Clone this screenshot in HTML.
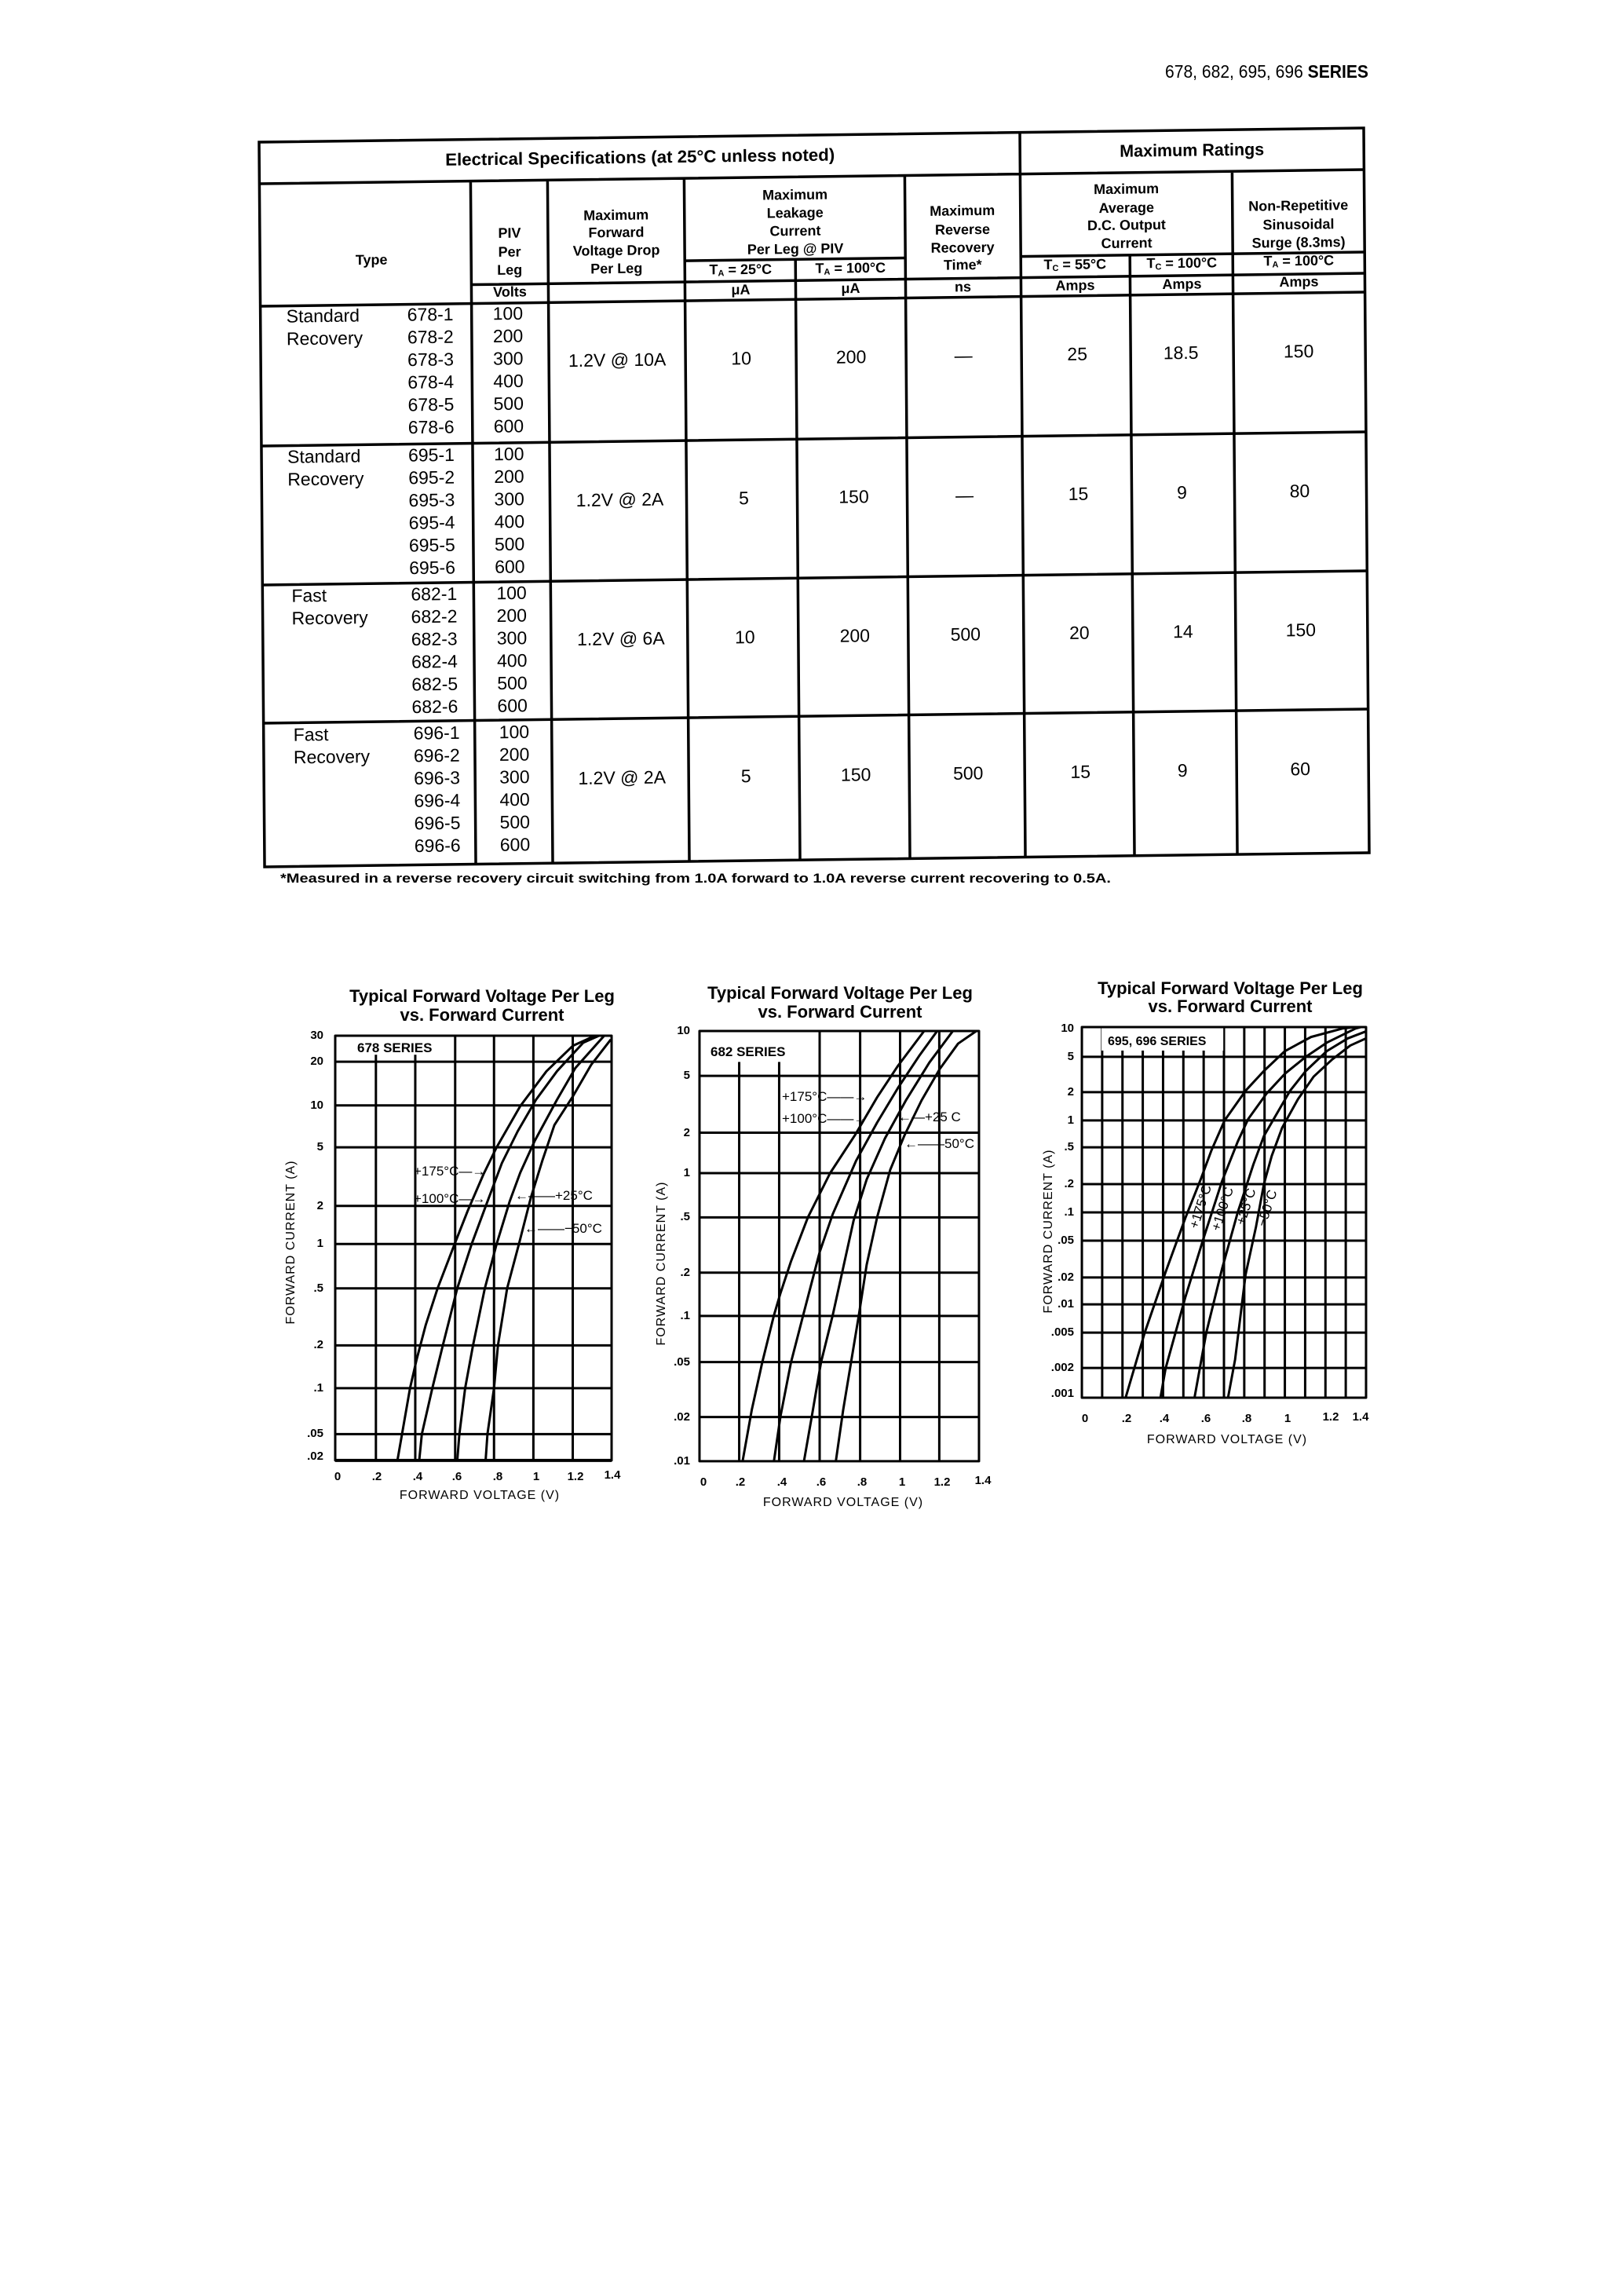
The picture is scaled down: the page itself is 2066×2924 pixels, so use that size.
<!DOCTYPE html>
<html><head><meta charset="utf-8"><style>
html,body{margin:0;padding:0;background:#fff}
svg{display:block}
text{font-family:"Liberation Sans",sans-serif;fill:#000}
.b{font-weight:bold}
</style></head><body>
<svg width="2066" height="2924" viewBox="0 0 2066 2924" xmlns="http://www.w3.org/2000/svg">
<rect width="2066" height="2924" fill="#fff"/>
<text x="1484" y="99" font-size="23" textLength="259" lengthAdjust="spacingAndGlyphs">678, 682, 695, 696 <tspan class="b">SERIES</tspan></text>

<g transform="matrix(1,-0.0128,0.0076,1,330,181)">
<g stroke="#000" fill="none" stroke-width="3.5">
<rect x="0" y="0" width="1407" height="923"/>
<path d="M0,53H1407 M969,0V923 M269,53V923 M367,53V923 M541,53V923 M682,158V923 M822,53V923 M1108,158V923 M1239,53V923"/>
<path d="M541,158H822 M969,158H1407 M269,185H1407 M0,209H1407 M0,387H1407 M0,564H1407 M0,740H1407"/>
</g>
<g font-size="20" class="b" dominant-baseline="middle">
<text x="237" y="27" font-size="22" textLength="496" lengthAdjust="spacingAndGlyphs">Electrical Specifications (at 25°C unless noted)</text>
<text x="1188" y="27" font-size="22" text-anchor="middle" textLength="184" lengthAdjust="spacingAndGlyphs">Maximum Ratings</text>
</g>
<g font-size="18" class="b" text-anchor="middle" dominant-baseline="middle">
<text x="142" y="153">Type</text>
<text x="318" y="121">PIV</text><text x="318" y="145">Per</text><text x="318" y="168">Leg</text><text x="318" y="196">Volts</text>
<text x="454" y="100">Maximum</text><text x="454" y="122">Forward</text><text x="454" y="145">Voltage Drop</text><text x="454" y="168">Per Leg</text>
<text x="682" y="77">Maximum</text><text x="682" y="100">Leakage</text><text x="682" y="123">Current</text><text x="682" y="146">Per Leg @ PIV</text>
<text x="612" y="171">T<tspan font-size="11" dy="4">A</tspan><tspan dy="-4"> = 25°C</tspan></text>
<text x="752" y="171">T<tspan font-size="11" dy="4">A</tspan><tspan dy="-4"> = 100°C</tspan></text>
<text x="612" y="197">μA</text><text x="752" y="197">μA</text>
<text x="895" y="100">Maximum</text><text x="895" y="124">Reverse</text><text x="895" y="147">Recovery</text><text x="895" y="169">Time*</text><text x="895" y="197">ns</text>
<text x="1104" y="75">Maximum</text><text x="1104" y="99">Average</text><text x="1104" y="121">D.C. Output</text><text x="1104" y="144">Current</text>
<text x="1038" y="170">T<tspan font-size="11" dy="4">C</tspan><tspan dy="-4"> = 55°C</tspan></text>
<text x="1174" y="170">T<tspan font-size="11" dy="4">C</tspan><tspan dy="-4"> = 100°C</tspan></text>
<text x="1038" y="197">Amps</text><text x="1174" y="197">Amps</text>
<text x="1323" y="99">Non-Repetitive</text><text x="1323" y="123">Sinusoidal</text><text x="1323" y="146">Surge (8.3ms)</text>
<text x="1323" y="169">T<tspan font-size="11" dy="4">A</tspan><tspan dy="-4"> = 100°C</tspan></text><text x="1323" y="196">Amps</text>
</g>
<g font-size="23" dominant-baseline="middle">
<g transform="translate(0,224)">
<text x="33" y="0">Standard</text><text x="33" y="28.7">Recovery</text>
<text x="187" y="0">678-1</text><text x="187" y="28.7">678-2</text><text x="187" y="57.4">678-3</text><text x="187" y="86.1">678-4</text><text x="187" y="114.8">678-5</text><text x="187" y="143.5">678-6</text>
<text x="296" y="0">100</text><text x="296" y="28.7">200</text><text x="296" y="57.4">300</text><text x="296" y="86.1">400</text><text x="296" y="114.8">500</text><text x="296" y="143.5">600</text>
</g>
<g transform="translate(0,403)">
<text x="33" y="0">Standard</text><text x="33" y="28.7">Recovery</text>
<text x="187" y="0">695-1</text><text x="187" y="28.7">695-2</text><text x="187" y="57.4">695-3</text><text x="187" y="86.1">695-4</text><text x="187" y="114.8">695-5</text><text x="187" y="143.5">695-6</text>
<text x="296" y="0">100</text><text x="296" y="28.7">200</text><text x="296" y="57.4">300</text><text x="296" y="86.1">400</text><text x="296" y="114.8">500</text><text x="296" y="143.5">600</text>
</g>
<g transform="translate(0,580)">
<text x="37" y="0">Fast</text><text x="37" y="28.7">Recovery</text>
<text x="189" y="0">682-1</text><text x="189" y="28.7">682-2</text><text x="189" y="57.4">682-3</text><text x="189" y="86.1">682-4</text><text x="189" y="114.8">682-5</text><text x="189" y="143.5">682-6</text>
<text x="298" y="0">100</text><text x="298" y="28.7">200</text><text x="298" y="57.4">300</text><text x="298" y="86.1">400</text><text x="298" y="114.8">500</text><text x="298" y="143.5">600</text>
</g>
<g transform="translate(0,757)">
<text x="38" y="0">Fast</text><text x="38" y="28.7">Recovery</text>
<text x="191" y="0">696-1</text><text x="191" y="28.7">696-2</text><text x="191" y="57.4">696-3</text><text x="191" y="86.1">696-4</text><text x="191" y="114.8">696-5</text><text x="191" y="143.5">696-6</text>
<text x="300" y="0">100</text><text x="300" y="28.7">200</text><text x="300" y="57.4">300</text><text x="300" y="86.1">400</text><text x="300" y="114.8">500</text><text x="300" y="143.5">600</text>
</g>
</g>
<g font-size="23" dominant-baseline="middle" text-anchor="middle">
<g transform="translate(0,285)">
<text x="454">1.2V @ 10A</text><text x="612">10</text><text x="752">200</text><text x="895">—</text><text x="1040">25</text><text x="1172">18.5</text><text x="1322">150</text>
</g>
<g transform="translate(0,463)">
<text x="456">1.2V @ 2A</text><text x="614">5</text><text x="754">150</text><text x="895">—</text><text x="1040">15</text><text x="1172">9</text><text x="1322">80</text>
</g>
<g transform="translate(0,640)">
<text x="456">1.2V @ 6A</text><text x="614">10</text><text x="754">200</text><text x="895">500</text><text x="1040">20</text><text x="1172">14</text><text x="1322">150</text>
</g>
<g transform="translate(0,817)">
<text x="456">1.2V @ 2A</text><text x="614">5</text><text x="754">150</text><text x="897">500</text><text x="1040">15</text><text x="1170">9</text><text x="1320">60</text>
</g>
</g>
</g>
<text x="357" y="1124" font-size="17" class="b" textLength="1058" lengthAdjust="spacingAndGlyphs">*Measured in a reverse recovery circuit switching from 1.0A forward to 1.0A reverse current recovering to 0.5A.</text>

<g transform="translate(361.8,1299.6) scale(0.3343,0.4037)" fill="none" stroke="#000" stroke-width="3" stroke-linejoin="round">
<path vector-effect="non-scaling-stroke" d="M350,48V1388M500,48V1388M652,48V1388M800,48V1388M950,48V1388M1100,48V1388M195,130H1248M195,268H1248M195,400H1248M195,585H1248M195,705H1248M195,845H1248M195,1025H1248M195,1160H1248M195,1305H1248"/>
<rect x="270" y="50" width="330" height="58" fill="#fff" stroke="none"/>
<rect vector-effect="non-scaling-stroke" x="195" y="48" width="1053" height="1340"/>
<path vector-effect="non-scaling-stroke" stroke-width="4" d="M195,1388H1248"/>
<polyline vector-effect="non-scaling-stroke" points="432,1388 480,1160 505,1070 540,960 585,845 650,705 700,600 760,485 810,400 900,270 1000,160 1100,80 1185,48"/>
<polyline vector-effect="non-scaling-stroke" points="515,1388 525,1305 565,1160 605,1025 660,845 715,705 780,560 830,450 890,350 960,250 1040,160 1140,70 1200,48"/>
<polyline vector-effect="non-scaling-stroke" points="660,1388 668,1305 690,1160 720,1025 765,845 810,705 860,570 900,480 955,380 1040,250 1110,150 1220,48"/>
<polyline vector-effect="non-scaling-stroke" points="768,1388 775,1305 800,1160 815,1025 850,845 895,705 940,560 985,440 1030,330 1100,240 1170,140 1245,60"/>
</g>
<g transform="translate(844.4,1300.9) scale(0.3327,0.4023)" fill="none" stroke="#000" stroke-width="3" stroke-linejoin="round">
<path vector-effect="non-scaling-stroke" d="M292,30V1392M445,30V1392M600,30V1392M755,30V1392M908,30V1392M1058,30V1392M140,172H1210M140,352H1210M140,480H1210M140,620H1210M140,795H1210M140,932H1210M140,1078H1210M140,1252H1210"/>
<rect x="160" y="33" width="335" height="95" fill="#fff" stroke="none"/>
<rect vector-effect="non-scaling-stroke" x="140" y="30" width="1070" height="1362"/>
<polyline vector-effect="non-scaling-stroke" points="305,1392 340,1230 380,1080 425,930 450,860 490,760 555,620 640,480 735,360 820,240 900,140 1000,30"/>
<polyline vector-effect="non-scaling-stroke" points="425,1392 450,1250 490,1080 540,920 600,730 650,610 740,440 820,320 900,210 980,110 1050,30"/>
<polyline vector-effect="non-scaling-stroke" points="540,1392 570,1250 605,1080 650,930 690,780 730,630 780,500 850,370 930,250 1020,130 1110,30"/>
<polyline vector-effect="non-scaling-stroke" points="662,1392 690,1230 720,1080 750,930 780,770 820,620 870,470 925,360 990,250 1060,150 1130,70 1200,30"/>
</g>
<g transform="translate(1343,1291.8) scale(0.3336,0.3603)" fill="none" stroke="#000" stroke-width="3" stroke-linejoin="round">
<path vector-effect="non-scaling-stroke" d="M182.5,45V1355M260,45V1355M337.5,45V1355M415,45V1355M492.5,45V1355M570,45V1355M647.5,45V1355M725,45V1355M802.5,45V1355M880,45V1355M957.5,45V1355M1035,45V1355M1112.5,45V1355M105,150H1190M105,275H1190M105,375H1190M105,470H1190M105,600H1190M105,700H1190M105,800H1190M105,930H1190M105,1025H1190M105,1125H1190M105,1250H1190"/>
<rect x="180" y="48" width="465" height="80" fill="#fff" stroke="none"/>
<rect vector-effect="non-scaling-stroke" x="105" y="45" width="1085" height="1310"/>
<polyline vector-effect="non-scaling-stroke" points="272,1355 345,1125 425,910 500,720 560,580 600,480 650,375 730,270 800,200 880,130 980,80 1100,50 1150,45"/>
<polyline vector-effect="non-scaling-stroke" points="405,1355 425,1250 500,1000 570,790 640,590 700,450 740,370 810,280 880,210 960,150 1040,100 1150,50 1170,45"/>
<polyline vector-effect="non-scaling-stroke" points="535,1355 580,1125 640,900 700,700 760,530 800,430 850,350 900,270 960,200 1040,130 1120,85 1190,60"/>
<polyline vector-effect="non-scaling-stroke" points="663,1355 690,1220 730,920 770,750 800,600 830,500 870,400 930,300 990,220 1060,160 1130,110 1190,85"/>
</g>

<text x="455" y="1340" font-size="17" class="b">678 SERIES</text>
<text x="905" y="1345" font-size="17" class="b">682 SERIES</text>
<text x="1411" y="1331" font-size="16" class="b">695, 696 SERIES</text>

<g class="b" font-size="22" text-anchor="middle">
<text x="614" y="1276">Typical Forward Voltage Per Leg</text><text x="614" y="1300">vs. Forward Current</text>
<text x="1070" y="1272">Typical Forward Voltage Per Leg</text><text x="1070" y="1296">vs. Forward Current</text>
<text x="1567" y="1266">Typical Forward Voltage Per Leg</text><text x="1567" y="1289">vs. Forward Current</text>
</g>

<g font-size="15" class="b" text-anchor="end" dominant-baseline="middle">
<text x="412" y="1319">30</text><text x="412" y="1352">20</text><text x="412" y="1408">10</text><text x="412" y="1461">5</text><text x="412" y="1536">2</text><text x="412" y="1584">1</text><text x="412" y="1641">.5</text><text x="412" y="1713">.2</text><text x="412" y="1768">.1</text><text x="412" y="1826">.05</text><text x="412" y="1855">.02</text>
<text x="879" y="1313">10</text><text x="879" y="1370">5</text><text x="879" y="1443">2</text><text x="879" y="1494">1</text><text x="879" y="1550">.5</text><text x="879" y="1621">.2</text><text x="879" y="1676">.1</text><text x="879" y="1735">.05</text><text x="879" y="1805">.02</text><text x="879" y="1861">.01</text>
<text x="1368" y="1310">10</text><text x="1368" y="1346">5</text><text x="1368" y="1391">2</text><text x="1368" y="1427">1</text><text x="1368" y="1461">.5</text><text x="1368" y="1508">.2</text><text x="1368" y="1544">.1</text><text x="1368" y="1580">.05</text><text x="1368" y="1627">.02</text><text x="1368" y="1661">.01</text><text x="1368" y="1697">.005</text><text x="1368" y="1742">.002</text><text x="1368" y="1775">.001</text>
</g>
<g font-size="15" class="b" text-anchor="middle">
<text x="430" y="1885">0</text><text x="480" y="1885">.2</text><text x="532" y="1885">.4</text><text x="582" y="1885">.6</text><text x="634" y="1885">.8</text><text x="683" y="1885">1</text><text x="733" y="1885">1.2</text><text x="780" y="1883">1.4</text>
<text x="896" y="1892">0</text><text x="943" y="1892">.2</text><text x="996" y="1892">.4</text><text x="1046" y="1892">.6</text><text x="1098" y="1892">.8</text><text x="1149" y="1892">1</text><text x="1200" y="1892">1.2</text><text x="1252" y="1890">1.4</text>
<text x="1382" y="1811">0</text><text x="1435" y="1811">.2</text><text x="1483" y="1811">.4</text><text x="1536" y="1811">.6</text><text x="1588" y="1811">.8</text><text x="1640" y="1811">1</text><text x="1695" y="1809">1.2</text><text x="1733" y="1809">1.4</text>
</g>
<g font-size="16" text-anchor="middle" letter-spacing="1">
<text x="611" y="1909">FORWARD VOLTAGE (V)</text>
<text x="1074" y="1918">FORWARD VOLTAGE (V)</text>
<text x="1563" y="1838">FORWARD VOLTAGE (V)</text>
<text transform="translate(375,1582) rotate(-90)">FORWARD CURRENT (A)</text>
<text transform="translate(847,1609) rotate(-90)">FORWARD CURRENT (A)</text>
<text transform="translate(1340,1568) rotate(-90)">FORWARD CURRENT (A)</text>
</g>

<g font-size="17">
<text x="527" y="1497">+175°C—→</text>
<text x="527" y="1532">+100°C—→</text>
<text x="656" y="1528">←——+25°C</text>
<text x="668" y="1570">←——−50°C</text>
<text x="996" y="1402">+175°C——→</text>
<text x="996" y="1430">+100°C——→</text>
<text x="1144" y="1428">←—+25 C</text>
<text x="1152" y="1462">←——50°C</text>
<g text-anchor="middle" dominant-baseline="middle">
<text transform="translate(1530,1537) rotate(-72)">+175°C</text>
<text transform="translate(1558,1540) rotate(-72)">+100°C</text>
<text transform="translate(1588,1537) rotate(-72)">+25°C</text>
<text transform="translate(1615,1539) rotate(-72)">−50°C</text>
</g>
</g>
</svg>
</body></html>
